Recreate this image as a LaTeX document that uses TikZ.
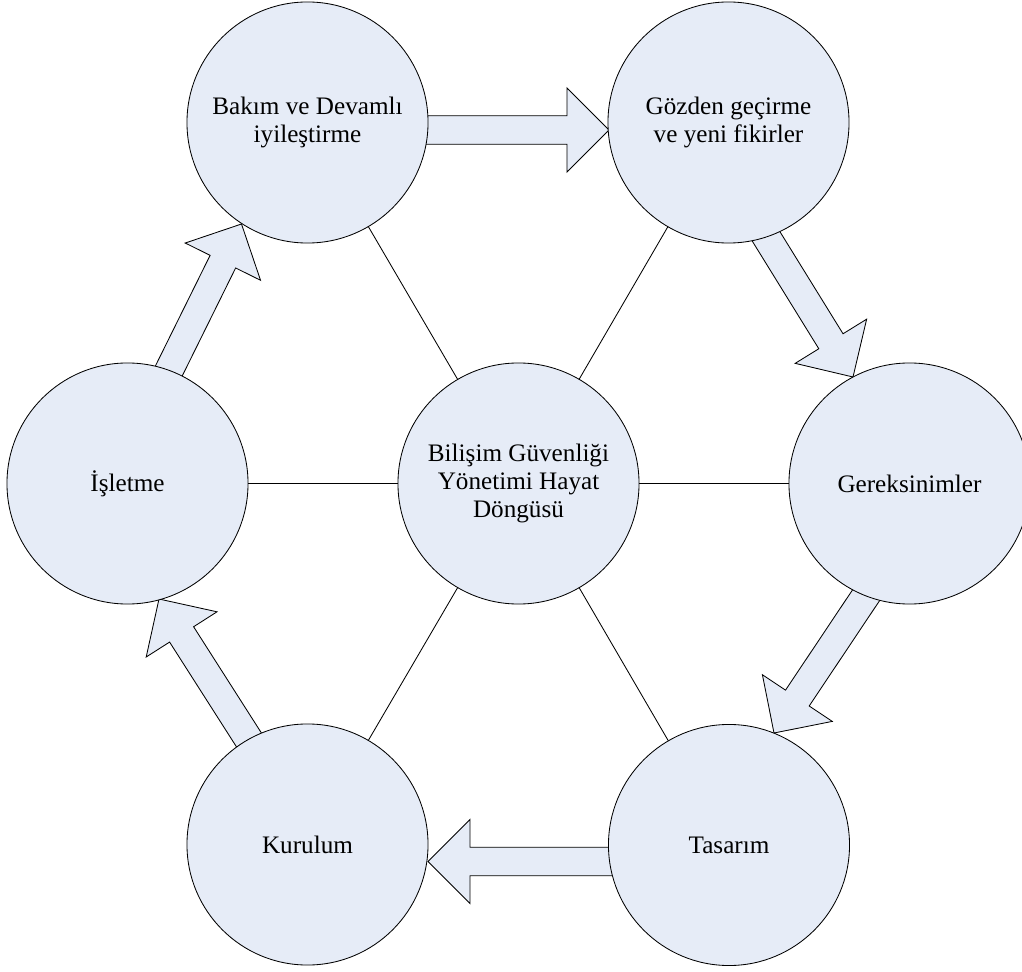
\documentclass[tikz,border=0pt]{standalone}
\usepackage{fontspec}
\setmainfont{Liberation Serif}
\usetikzlibrary{calc,backgrounds}
\definecolor{cfill}{RGB}{230,236,247}
\newcommand{\blockarr}[2]{%
  \coordinate (#1b) at ($(#2)!1.05cm!(#1)$);
  \filldraw[arrowshape] ($(#1)!0.356cm!90:(#2)$) -- ($(#1b)!0.356cm!90:(#2)$) -- ($(#1b)!1.05cm!90:(#2)$) -- (#2) -- ($(#1b)!1.05cm!-90:(#2)$) -- ($(#1b)!0.356cm!-90:(#2)$) -- ($(#1)!0.356cm!-90:(#2)$) -- cycle;}
\begin{document}
\begin{tikzpicture}[x=0.025cm,y=-0.025cm,
  phase/.style={circle, draw=black, fill=cfill, line width=0.6pt, minimum size=6.025cm, inner sep=0pt, outer sep=0pt, align=center, font=\fontsize{17.9}{20.1}\selectfont},
  spoke/.style={draw=black, line width=0.6pt},
  arrowshape/.style={fill=cfill, draw=black, line width=0.6pt, line join=miter}]
\useasboundingbox (0,0) rectangle (1022,972);
\clip (0,0) rectangle (1022,972);
\node[phase] (bakim) at (307.5,122.5) {Bakım ve Devamlı\\iyileştirme};
\node[phase] (gozden) at (728.5,122.5) {Gözden geçirme\\ve yeni fikirler};
\node[phase] (isletme) at (127.5,483.5) {İşletme};
\node[phase] (merkez) at (518.5,483.5) {Bilişim Güvenliği\\Yönetimi Hayat\\Döngüsü};
\node[phase] (gerek) at (909.5,483.5) {Gereksinimler};
\node[phase] (kurulum) at (307.5,844.5) {Kurulum};
\node[phase] (tasarim) at (729,845) {Tasarım};
\foreach \n in {bakim,gozden,isletme,gerek,kurulum,tasarim}
  \draw[spoke] (merkez) -- (\n);
\begin{pgfonlayer}{background}
\coordinate (a1s) at (380,130);   \coordinate (a1t) at (609,130);
\coordinate (a2s) at (721.6,164.4); \coordinate (a2t) at (853,377);
\coordinate (a3s) at (913,525);   \coordinate (a3t) at (774,733);
\coordinate (a4s) at (680,861.5); \coordinate (a4t) at (428,861.5);
\coordinate (a5s) at (293.5,809.7); \coordinate (a5t) at (159,599);
\coordinate (a6s) at (130.7,448); \coordinate (a6t) at (241.5,224);
\blockarr{a1s}{a1t}
\blockarr{a2s}{a2t}
\blockarr{a3s}{a3t}
\blockarr{a4s}{a4t}
\blockarr{a5s}{a5t}
\blockarr{a6s}{a6t}
\end{pgfonlayer}
\end{tikzpicture}
\end{document}
